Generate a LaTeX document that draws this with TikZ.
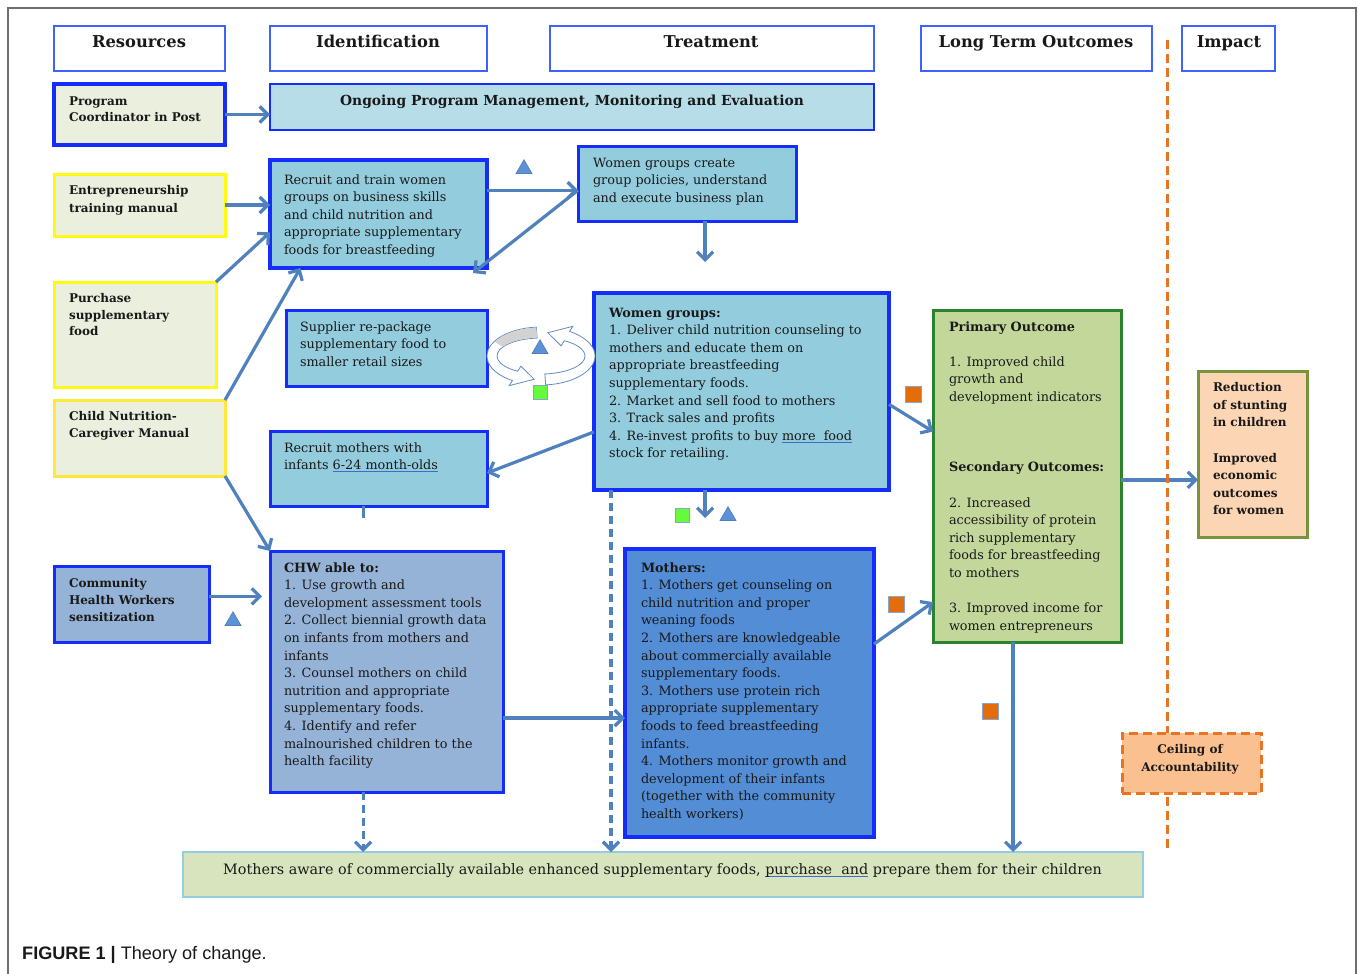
\documentclass[tikz,border=0pt]{standalone}
\usepackage{fontspec}
\setmainfont{DejaVu Serif}
\newfontfamily\capfont{Liberation Sans}
\usetikzlibrary{arrows.meta,shapes.geometric,calc,fit}
\definecolor{bblue}{RGB}{20,45,250}
\definecolor{hblue}{RGB}{60,100,250}
\definecolor{beige}{RGB}{235,239,222}
\definecolor{aqua}{RGB}{147,205,221}
\definecolor{lagua}{RGB}{183,222,232}
\definecolor{chwc}{RGB}{149,179,215}
\definecolor{motc}{RGB}{83,141,213}
\definecolor{greenf}{RGB}{196,215,155}
\definecolor{greenb}{RGB}{45,130,45}
\definecolor{peach}{RGB}{252,213,180}
\definecolor{oliveb}{RGB}{119,147,60}
\definecolor{ceilf}{RGB}{250,192,144}
\definecolor{orng}{RGB}{232,115,35}
\definecolor{botf}{RGB}{215,228,189}
\definecolor{botb}{RGB}{146,205,225}
\definecolor{arrc}{RGB}{79,129,189}
\definecolor{ylw}{RGB}{255,250,20}
\definecolor{ylw2}{RGB}{255,232,60}
\definecolor{ink}{RGB}{25,25,25}
\definecolor{ulblue}{RGB}{60,110,200}
\definecolor{trif}{RGB}{90,145,215}
\definecolor{sqg}{RGB}{102,250,60}
\definecolor{sqo}{RGB}{228,108,10}
\definecolor{framec}{RGB}{110,110,110}
\definecolor{icon}{RGB}{100,140,195}
\newsavebox\ulbox
\newcommand\blueul[1]{\sbox\ulbox{#1}\rlap{\textcolor{ulblue}{\rule[-0.4ex]{\wd\ulbox}{1.3pt}}}\usebox\ulbox}
\tikzset{
  bx/.style={rectangle, inner sep=0pt, outer sep=0pt},
  hbox/.style={bx, draw=hblue, line width=1.3pt, fill=white},
  bluebox/.style={bx, draw=bblue, line width=3pt},
  thickblue/.style={bx, draw=bblue, line width=4pt},
  ylwbox/.style={bx, draw=ylw, line width=3pt, fill=beige},
  txt/.style={inner sep=0pt, outer sep=0pt, anchor=north west, align=left, text=ink, font=\fontsize{12.8}{17.6}\selectfont},
  btxt/.style={txt, font=\fontsize{12}{17}\selectfont\bfseries},
  htxt/.style={inner sep=0pt, anchor=base, text=ink, font=\fontsize{16.3}{19}\selectfont\bfseries},
  arr/.style={draw=arrc, line width=3.2pt, -{Straight Barb[length=8pt,width=16pt]}},
  darr/.style={arr, dash pattern=on 8pt off 5pt},
  odash/.style={draw=orng, line width=3pt, dash pattern=on 9pt off 5pt},
  tri/.style={regular polygon, regular polygon sides=3, minimum size=19pt, inner sep=0pt, fill=trif, draw=trif!70!black, line width=0.3pt},
  gsq/.style={rectangle, minimum size=14pt, inner sep=0pt, fill=sqg, draw=arrc!70, line width=0.6pt},
  osq/.style={rectangle, minimum size=16pt, inner sep=0pt, fill=sqo, draw=arrc!70, line width=0.6pt},
}
\begin{document}
\begin{tikzpicture}[x=1pt,y=-1pt]
\useasboundingbox (0,0) rectangle (1358,974);
\fill[white] (0,0) rectangle (1358,974);
\draw[framec, line width=1.2pt] (8,974) -- (8,8) -- (1356,8) -- (1356,974);

% headers
\node[hbox, fit={(54,26) (225,71)}] (hRes) {};
\node[hbox, fit={(270,26) (487,71)}] (hId) {};
\node[hbox, fit={(550,26) (874,71)}] (hTr) {};
\node[hbox, fit={(921,26) (1152,71)}] (hLto) {};
\node[hbox, fit={(1182,26) (1275,71)}] (hImp) {};
\node[htxt] (hRes-t) at (139,47.5) {Resources};
\node[htxt] (hId-t) at (378,47.5) {Identification};
\node[htxt] (hTr-t) at (711,47.5) {Treatment};
\node[htxt] (hLto-t) at (1036,47.5) {Long Term Outcomes};
\node[htxt] (hImp-t) at (1229,47.5) {Impact};

\coordinate (otop) at (1167,40);

% boxes
\node[thickblue, fill=beige, fit={(54,84) (225,145)}] (pc) {};
\node[bx, draw=bblue, line width=2.5pt, fill=lagua, fit={(270,84) (874,130)}] (ong) {};
\node[ylwbox, fit={(54,174) (225,236)}] (etm) {};
\node[thickblue, fill=aqua, fit={(270,160) (487,268)}] (rtw) {};
\node[bluebox, fill=aqua, fit={(578,146) (796,221)}] (wgc) {};
\node[ylwbox, fit={(54,282) (216,387)}] (psf) {};
\node[ylwbox, draw=ylw2, fit={(54,400) (225,476)}] (cnm) {};
\node[bluebox, fill=aqua, fit={(286,310) (487,386)}] (sup) {};
\node[bluebox, fill=aqua, fit={(270,431) (487,506)}] (rtm) {};
\node[thickblue, fill=aqua, fit={(594,293) (889,490)}] (wg) {};
\node[bluebox, fill=chwc, fit={(54,566) (209,642)}] (chws) {};
\node[bluebox, fill=chwc, fit={(270,551) (503,792)}] (chw) {};
\node[thickblue, fill=motc, fit={(625,549) (874,837)}] (mot) {};
\node[bx, draw=greenb, line width=3pt, fill=greenf, fit={(933,310) (1121,642)}] (prim) {};
\node[bx, draw=oliveb, line width=3pt, fill=peach, fit={(1198,371) (1307,537)}] (imp) {};
\node[bx, draw=orng, line width=3pt, dash pattern=on 9pt off 5pt, fill=ceilf, fit={(1122,733) (1261,793)}] (ceil) {};
\node[bx, draw=botb, line width=2pt, fill=botf, fit={(183,852) (1143,897)}] (bot) {};

% texts
\node[inner sep=0pt, anchor=base, text=ink, font=\fontsize{13.85}{16}\selectfont\bfseries] (ong-t) at (572,106) {Ongoing Program Management, Monitoring and Evaluation};
\node[btxt, font=\fontsize{12}{15.5}\selectfont\bfseries] (pc-t) at (69,94.8) {\strut Program\\Coordinator in Post};
\node[btxt, font=\fontsize{12}{18}\selectfont\bfseries] (etm-t) at (69,182) {\strut Entrepreneurship\\training manual};
\node[btxt, font=\fontsize{12}{16.5}\selectfont\bfseries] (psf-t) at (69,291) {\strut Purchase\\supplementary\\food};
\node[btxt] (cnm-t) at (69,408.7) {\strut Child Nutrition-\\Caregiver Manual};
\node[btxt] (chws-t) at (69,575.7) {\strut Community\\Health Workers\\sensitization};
\node[txt] (rtw-t) at (284,171.7) {\strut Recruit and train women\\groups on business skills\\and child nutrition and\\appropriate supplementary\\foods for breastfeeding};
\node[txt] (wgc-t) at (593,154.7) {\strut Women groups create\\group policies, understand\\and execute business plan};
\node[txt] (sup-t) at (300,318.7) {\strut Supplier re-package\\supplementary food to\\smaller retail sizes};
\node[txt] (rtm-t) at (284,439.7) {\strut Recruit mothers with\\infants \blueul{6-24 month-olds}};
\node[txt] (wg-t) at (609,304.7) {\strut\textbf{Women groups:}\\1. Deliver child nutrition counseling to\\mothers and educate them on\\appropriate breastfeeding\\supplementary foods.\\2. Market and sell food to mothers\\3. Track sales and profits\\4. Re-invest profits to buy \blueul{more\ \ food}\\stock for retailing.};
\node[txt] (chw-t) at (284,559.7) {\strut\textbf{CHW able to:}\\1. Use growth and\\development assessment tools\\2. Collect biennial growth data\\on infants from mothers and\\infants\\3. Counsel mothers on child\\nutrition and appropriate\\supplementary foods.\\4. Identify and refer\\malnourished children to the\\health facility};
\node[txt] (mot-t) at (641,559.7) {\strut\textbf{Mothers:}\\1. Mothers get counseling on\\child nutrition and proper\\weaning foods\\2. Mothers are knowledgeable\\about commercially available\\supplementary foods.\\3. Mothers use protein rich\\appropriate supplementary\\foods to feed breastfeeding\\infants.\\4. Mothers monitor growth and\\development of their infants\\(together with the community\\health workers)};
\node[txt] (prim-t) at (949,318.7) {\strut\textbf{Primary Outcome}\\[17.6pt]1. Improved child\\growth and\\development indicators\\[52.8pt]\textbf{Secondary Outcomes:}\\[17.6pt]2. Increased\\accessibility of protein\\rich supplementary\\foods for breastfeeding\\to mothers\\[17.6pt]3. Improved income for\\women entrepreneurs};
\node[btxt, font=\fontsize{12}{17.6}\selectfont\bfseries] (imp-t) at (1213,379.3) {\strut Reduction\\of stunting\\in children\\[17.6pt]Improved\\economic\\outcomes\\for women};
\node[btxt, anchor=north, align=center, font=\fontsize{12}{18}\selectfont\bfseries] (ceil-t) at (1190,741) {\strut Ceiling of\\Accountability};
\node[inner sep=0pt, anchor=base west, text=ink, font=\fontsize{14.35}{17}\selectfont] (bot-t) at (223,874.5) {Mothers aware of commercially available enhanced supplementary foods, \blueul{purchase\ \ and} prepare them for their children};
\node[inner sep=0pt, anchor=base west, text=ink, font=\capfont\fontsize{18.1}{21}\selectfont] (cap) at (22,959.5) {\textbf{FIGURE 1 \textbar} Theory of change.};

% markers
\node[tri] (tr1) at (524,169) {};
\node[tri] (tr2) at (540,349) {};
\node[tri] (tr3) at (728,516) {};
\node[tri] (tr4) at (233,621) {};
\node[gsq] (g1) at (540,392) {};
\node[gsq] (g2) at (682,515) {};
\node[osq] (o1) at (913,394) {};
\node[osq] (o2) at (896,604) {};
\node[osq] (o3) at (990,711) {};

% circular arrows icon
\begin{scope}[shift={(541,356)}, y=1pt, draw=icon, line width=0.8pt]
  \filldraw[fill=white] (95:54 and 29) arc[start angle=95,end angle=238,x radius=54,y radius=29] -- (238:60 and 35) -- (262:49 and 23.5) -- (238:38 and 12) -- (238:44 and 18) arc[start angle=238,end angle=95,x radius=44,y radius=18] -- cycle;
  \fill[gray!35] (95:53.5 and 28.5) arc[start angle=95,end angle=150,x radius=53.5,y radius=28.5] -- (150:44.5 and 18.5) arc[start angle=150,end angle=95,x radius=44.5,y radius=18.5] -- cycle;
  \filldraw[fill=white] (-85:54 and 29) arc[start angle=-85,end angle=58,x radius=54,y radius=29] -- (58:60 and 35) -- (82:49 and 23.5) -- (58:38 and 12) -- (58:44 and 18) arc[start angle=58,end angle=-85,x radius=44,y radius=18] -- cycle;
\end{scope}

% connectors
\coordinate (a1) at ($(rtw.north east)!0.28!(rtw.south east)$);
\coordinate (a2) at ($(wgc.north west)!0.59!(wgc.south west)$);
\coordinate (a3) at ($(wgc.south west)!0.583!(wgc.south east)$);
\coordinate (a4) at ($(wg.north west)!0.705!(wg.south west)$);
\coordinate (a5) at ($(wg.south west)!0.0576!(wg.south east)$);
\coordinate (a6) at ($(chw.north east)!0.693!(chw.south east)$);
\coordinate (a7) at ($(chw.south west)!0.4!(chw.south east)$);
\coordinate (a8) at ($(prim.north east)!0.512!(prim.south east)$);
\coordinate (a9) at ($(prim.south west)!0.426!(prim.south east)$);
\coordinate (a10) at ($(chws.north east)!0.4!(chws.south east)$);
\coordinate (a11) at ($(rtm.south west)!0.429!(rtm.south east)$);

\draw[arr] (pc.east) -- (pc.east -| ong.west);
\draw[arr] (etm.east) -- (etm.east -| rtw.west);
\draw[arr] (psf.north east) -- ($(rtw.north west)!0.67!(rtw.south west)$);
\draw[arr] (cnm.north east) -- ($(rtw.south west)!0.14!(rtw.south east)$);
\draw[arr] (cnm.south east) -- (chw.north west);
\draw[arr, shorten >=8pt] (a10) -- (a10 -| chw.west);
\draw[arr] (a1) -- (a1 -| wgc.west);
\draw[arr] (a2) -- ($(rtw.south east)+(-14,5)$);
\draw[arr] (a3) -- ++(0,41);
\draw[arr] (a4) -- ($(rtm.north east)!0.56!(rtm.south east)$);
\draw[arr] ($(wg.north east)!0.565!(wg.south east)$) -- ($(prim.north west)!0.366!(prim.south west)$);
\draw[arr] (a3 |- wg.south) -- ++(0,28);
\draw[darr] (a5) -- (a5 |- bot.north);
\draw[arr] (a6) -- (a6 -| mot.west);
\draw[darr] (a7) -- (a7 |- bot.north);
\draw[arr] ($(mot.north east)!0.33!(mot.south east)$) -- ($(prim.north west)!0.88!(prim.south west)$);
\draw[arr] (a8) -- (a8 -| imp.west);
\draw[arr] (a9) -- (a9 |- bot.north);
\draw[draw=arrc, line width=3pt] (a11) -- ++(0,12);
\draw[odash] (otop) -- (otop |- ceil.north);
\draw[odash] ($(otop |- ceil.south)+(0,4)$) -- (otop |- bot.north);
\end{tikzpicture}
\end{document}
